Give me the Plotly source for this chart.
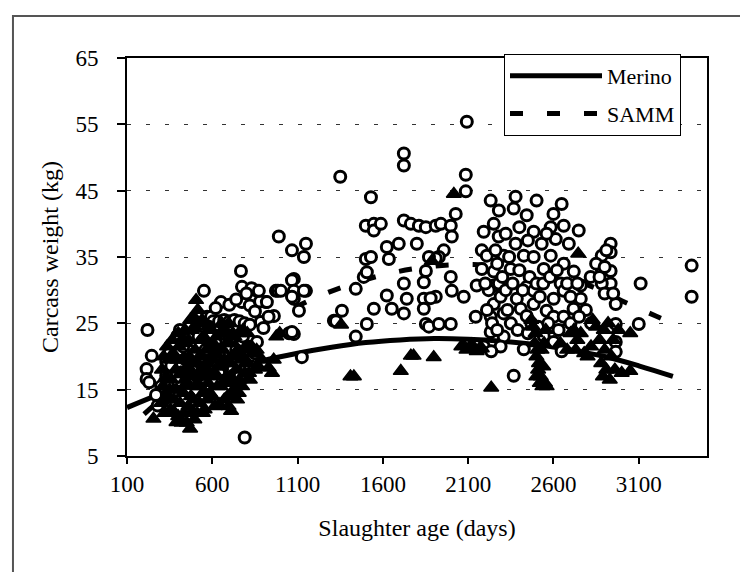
import plotly.graph_objects as go

# ---- fitted curves ----
merino_curve_age = [100, 300, 500, 700, 900, 1100, 1300, 1500, 1700, 1900, 2100, 2300, 2500, 2700, 2900, 3100, 3300]
merino_curve_wt = [12.3, 14.4, 16.3, 18.0, 19.4, 20.5, 21.4, 22.1, 22.5, 22.7, 22.6, 22.3, 21.8, 21.0, 20.0, 18.6, 17.0]

samm_curve_age = [200, 400, 600, 800, 1000, 1200, 1400, 1600, 1800, 2000, 2200, 2400, 2600, 2800, 3000, 3200, 3300]
samm_curve_wt = [11.3, 15.8, 19.8, 23.3, 26.3, 28.8, 30.8, 32.3, 33.3, 33.8, 33.8, 33.3, 32.3, 30.8, 28.4, 26.1, 25.0]

# ---- SAMM observations (open circles): (age, carcass weight) ----
samm_points = [
    (220, 24.0), (245, 20.1), (215, 18.1), (215, 16.6), (230, 16.1), (330, 19.2), (330, 17.1),
    (310, 13.3), (300, 15.5), (280, 12.6), (270, 14.2), (395, 23.1), (360, 18.6), (350, 20.5),
    (420, 17.6), (400, 16.1), (440, 19.6), (380, 14.8), (463, 22.7), (430, 21.5), (410, 24.0),
    (460, 16.0), (480, 18.0),
    (569, 26.0), (551, 29.9), (651, 28.2), (768, 32.9), (774, 30.5), (774, 28.2), (862, 29.9),
    (914, 28.2), (961, 26.1), (885, 25.2), (862, 22.2), (826, 19.6), (790, 7.8), (593, 26.0),
    (605, 25.3), (640, 25.3), (670, 25.5), (700, 25.3), (730, 25.5), (760, 25.3), (790, 25.0),
    (820, 24.8), (620, 22.0), (660, 20.5), (700, 22.5), (740, 21.0), (780, 23.0), (810, 21.5),
    (830, 18.5), (850, 20.5), (600, 19.0), (640, 17.5), (720, 18.0), (760, 17.0), (800, 18.3),
    (680, 16.5), (560, 21.0), (520, 23.0), (500, 20.5), (540, 17.5), (580, 24.5), (620, 27.3),
    (700, 27.8), (740, 28.6), (820, 27.7), (850, 26.8), (880, 28.3), (900, 24.3), (930, 26.0),
    (830, 30.3), (800, 29.5), (873, 29.9), (920, 28.2),
    (973, 29.9), (985, 29.9), (1002, 29.9), (990, 38.1), (1067, 36.0), (1149, 37.0), (1137, 35.0),
    (1078, 31.7), (1067, 31.5), (1078, 29.9), (1149, 29.9), (1137, 29.9), (1078, 28.7), (1108, 26.9),
    (1067, 29.0), (1078, 23.4), (1050, 23.5), (1067, 23.7), (1125, 19.9),
    (1350, 47.1), (1441, 30.2), (1488, 32.0), (1360, 26.9), (1313, 25.4), (1325, 25.3), (1441, 23.0),
    (1530, 44.0), (1500, 39.7), (1500, 34.7), (1547, 40.0), (1547, 39.0), (1530, 35.0), (1506, 24.9),
    (1547, 27.2), (1506, 32.7),
    (1588, 40.0), (1623, 36.5), (1693, 37.0), (1635, 34.7), (1723, 50.6), (1723, 48.8), (1723, 40.5),
    (1764, 40.0), (1811, 39.7), (1852, 39.5), (1910, 39.7), (1940, 40.0), (1998, 39.7), (2027, 41.5),
    (2004, 38.1), (1957, 36.0), (1928, 35.0), (1910, 34.8), (1870, 35.0), (1852, 32.9), (1840, 31.2),
    (1840, 28.7), (1840, 27.2), (1852, 24.9), (1870, 24.5), (1928, 24.9), (1998, 24.9), (1910, 29.0),
    (1880, 28.8), (1998, 32.0), (2004, 29.9), (2074, 29.0), (1799, 37.0), (1723, 31.0), (1740, 28.7),
    (1623, 29.2), (1652, 27.2), (1723, 26.5), (2092, 55.4), (2086, 47.4), (2086, 44.9), (2144, 26.0),
    (2150, 30.7), (2180, 33.2), (2180, 36.0), (2191, 38.8), (2191, 21.5),
    (2232, 43.5), (2378, 44.1), (2501, 43.5), (2648, 43.0), (2367, 42.3), (2443, 41.3), (2250, 40.0),
    (2584, 39.5), (2660, 39.7), (2748, 39.0), (2279, 38.1), (2484, 38.8), (2378, 37.0), (2531, 37.0),
    (2613, 37.7), (2209, 35.2), (2308, 35.2), (2426, 35.2), (2484, 35.0), (2584, 35.2), (2660, 34.0),
    (2250, 32.8), (2349, 33.2), (2543, 33.2), (2719, 32.8), (2818, 32.0), (2250, 30.7), (2443, 30.5),
    (2642, 31.0), (2760, 30.7), (2385, 28.7), (2484, 29.9), (2484, 27.9), (2601, 28.7), (2660, 29.9),
    (2760, 28.7), (2250, 27.9), (2232, 26.0), (2308, 26.5), (2408, 27.2), (2443, 26.1), (2560, 26.9),
    (2601, 26.0), (2660, 26.0), (2718, 27.2), (2232, 23.7), (2308, 23.0), (2543, 23.1), (2426, 21.1),
    (2601, 22.2), (2648, 20.8), (2672, 24.0), (2367, 17.1), (2220, 30.0), (2260, 36.0), (2270, 34.0),
    (2280, 31.0), (2290, 29.0), (2300, 32.0), (2320, 30.0), (2340, 35.0), (2360, 31.0), (2400, 33.0),
    (2420, 30.0), (2460, 32.0), (2500, 31.0), (2520, 29.0), (2540, 31.0), (2580, 32.0), (2620, 33.0),
    (2680, 31.0), (2700, 29.0), (2740, 31.0), (2790, 27.0), (2820, 25.0), (2240, 25.0), (2270, 24.0),
    (2290, 21.5), (2330, 27.0), (2350, 25.0), (2390, 24.0), (2450, 23.5), (2470, 25.0), (2510, 24.5),
    (2570, 25.0), (2630, 24.0), (2700, 25.0), (2750, 26.0), (2200, 31.0), (2210, 27.0), (2560, 38.5),
    (2600, 41.5), (2690, 37.0), (2450, 37.5), (2400, 39.5), (2320, 38.5), (2280, 42.0), (2235, 20.8),
    (2935, 37.0), (2935, 35.7), (2935, 32.9), (2935, 31.0), (2965, 27.9), (2965, 24.9), (2965, 22.2),
    (2965, 20.7), (2883, 33.2), (2883, 31.0), (2883, 35.2), (2900, 29.5), (2910, 36.0), (2870, 32.0),
    (2850, 34.0), (2950, 29.5), (2900, 33.5), (3111, 31.0), (3100, 24.9), (3410, 33.7), (3410, 29.0),
]

# ---- Merino observations (filled triangles): (age, carcass weight) ----
merino_points = [
    (255, 10.6), (390, 10.1), (470, 9.1), (640, 12.8), (710, 11.8), (300, 13.0), (310, 15.5),
    (320, 11.5), (330, 17.0), (340, 14.0), (345, 19.5), (355, 12.0), (360, 16.5), (370, 20.5),
    (375, 13.5), (385, 18.0), (390, 15.0), (400, 11.0), (405, 21.5), (410, 13.0), (415, 17.5),
    (425, 19.5), (430, 14.5), (435, 11.5), (445, 22.0), (450, 16.0), (455, 18.5), (460, 12.5),
    (465, 20.0), (475, 14.0), (480, 24.0), (485, 17.0), (490, 26.0), (495, 10.5), (500, 21.0),
    (505, 28.5), (510, 15.5), (515, 19.0), (520, 25.0), (525, 13.0), (530, 22.5), (535, 17.5),
    (540, 20.0), (545, 14.5), (550, 23.0), (555, 12.0), (560, 18.0), (565, 21.0), (575, 16.0),
    (580, 24.5), (590, 19.5), (600, 14.0), (605, 22.0), (615, 17.5), (620, 20.5), (630, 15.5),
    (645, 23.5), (650, 18.5), (660, 21.0), (665, 16.0), (675, 24.0), (680, 19.0), (690, 14.0),
    (700, 22.0), (705, 17.0), (715, 20.0), (725, 15.0), (730, 23.0), (740, 18.0), (745, 13.5),
    (750, 21.0), (760, 16.5), (770, 19.5), (780, 24.0), (790, 17.5), (800, 21.5), (810, 19.0),
    (820, 16.5), (840, 20.5), (870, 18.5), (930, 18.3), (950, 17.5), (960, 19.5), (975, 23.0),
    (995, 23.5),
    (305, 18.0), (315, 20.0), (325, 13.5), (335, 21.5), (350, 15.0), (365, 22.5), (380, 11.5),
    (395, 19.5), (400, 23.5), (420, 10.0), (420, 22.5), (440, 16.5), (440, 24.0), (450, 10.0),
    (460, 22.5), (470, 18.0), (470, 25.5), (480, 11.5), (490, 13.5), (495, 19.0), (500, 24.5),
    (510, 11.5), (515, 27.0), (525, 20.0), (530, 15.5), (540, 25.5), (545, 11.5), (550, 18.5),
    (560, 22.5), (570, 13.5), (575, 19.0), (585, 21.5), (585, 14.5), (595, 24.0), (600, 17.0),
    (610, 19.5), (615, 12.5), (625, 23.0), (635, 18.5), (640, 21.0), (650, 15.5), (655, 25.0),
    (670, 13.5), (670, 19.5), (685, 22.0), (685, 16.5), (695, 25.0), (695, 12.5), (710, 19.0),
    (720, 23.5), (720, 14.0), (735, 20.5), (735, 16.0), (755, 23.5), (755, 14.5), (765, 20.5),
    (775, 15.5), (785, 21.0), (795, 19.0), (805, 23.5), (815, 17.5), (830, 21.5), (850, 18.0),
    (860, 21.0), (890, 19.5),
    (1355, 24.8), (1410, 17.0), (1430, 17.0), (1705, 17.8), (1764, 20.1), (1780, 20.1), (1898, 19.9),
    (1887, 34.4), (2016, 44.5), (2060, 21.5), (2074, 21.6), (2090, 21.0), (2110, 21.3), (2120, 21.8),
    (2150, 20.8), (2180, 21.2), (2235, 15.3),
    (2470, 25.5), (2480, 24.5), (2490, 22.0), (2495, 23.5), (2500, 20.0), (2500, 17.0), (2505, 21.0),
    (2510, 18.0), (2515, 19.0), (2520, 16.0), (2525, 17.0), (2530, 21.0), (2535, 15.5), (2540, 18.5),
    (2545, 22.0), (2550, 16.0), (2555, 24.0), (2560, 15.5),
    (2640, 22.0), (2680, 21.0), (2700, 23.5), (2720, 24.0), (2730, 21.0), (2740, 22.5), (2745, 35.5),
    (2760, 23.5), (2780, 20.5), (2800, 20.0), (2820, 21.5), (2830, 25.5), (2850, 24.5), (2870, 22.5),
    (2880, 19.0), (2890, 17.0), (2895, 24.0), (2900, 21.0), (2910, 18.0), (2920, 25.0), (2930, 16.5),
    (2940, 20.0), (2950, 22.5), (2960, 18.0), (2980, 24.0), (3000, 17.5), (3050, 23.5), (3050, 17.8),
]

x_tick_values = [100, 600, 1100, 1600, 2100, 2600, 3100]
y_tick_values = [5, 15, 25, 35, 45, 55, 65]

samm_age = [p[0] for p in samm_points]
samm_wt = [p[1] for p in samm_points]
merino_age = [p[0] for p in merino_points]
merino_wt = [p[1] for p in merino_points]

SERIF = "Liberation Serif, Times New Roman, serif"

fig = go.Figure()
fig.add_trace(go.Scatter(
    x=merino_curve_age, y=merino_curve_wt, mode="lines", name="Merino",
    line=dict(color="black", width=5, shape="spline"), legendgroup="m", hoverinfo="skip"))
fig.add_trace(go.Scatter(
    x=samm_curve_age, y=samm_curve_wt, mode="lines", name="SAMM",
    line=dict(color="black", width=5, dash="13px,24px", shape="spline"), legendgroup="s", hoverinfo="skip"))
fig.add_trace(go.Scatter(
    x=samm_age, y=samm_wt, mode="markers", name="SAMM data", showlegend=False,
    marker=dict(symbol="circle", size=11, color="white", line=dict(color="black", width=3))))
fig.add_trace(go.Scatter(
    x=merino_age, y=merino_wt, mode="markers", name="Merino data", showlegend=False,
    marker=dict(symbol="triangle-up", size=13, color="black", line=dict(color="black", width=1.5))))

fig.update_layout(
    width=748, height=572,
    margin=dict(l=119, r=49, t=50, b=124, pad=0),
    paper_bgcolor="white", plot_bgcolor="white",
    font=dict(family=SERIF, color="black", size=22),
    legend=dict(x=0.650, y=1.01, xanchor="left", yanchor="top",
                bordercolor="black", borderwidth=1, bgcolor="white",
                font=dict(family=SERIF, size=22, color="black"),
                itemwidth=92, tracegroupgap=6),
    shapes=[dict(type="rect", xref="paper", yref="paper",
                 x0=-0.1966, x1=1.074, y0=-0.3065, y1=1.1055,
                 line=dict(color="#555555", width=2), layer="below")],
)
fig.update_xaxes(
    range=[100, 3500], tickvals=x_tick_values, ticktext=[str(v) for v in x_tick_values],
    showline=True, linecolor="black", linewidth=2, mirror=True,
    ticks="outside", ticklen=6, tickwidth=1.5, tickcolor="black",
    showgrid=False, zeroline=False,
    tickfont=dict(family=SERIF, size=23, color="black"), ticklabelstandoff=0,
    title=dict(text="Slaughter age (days)", font=dict(family=SERIF, size=24, color="black"), standoff=24),
)
fig.update_yaxes(
    range=[5, 65], tickvals=y_tick_values, ticktext=[str(v) for v in y_tick_values],
    showline=True, linecolor="black", linewidth=2, mirror=True,
    ticks="outside", ticklen=8, tickwidth=1.5, tickcolor="black",
    showgrid=True, gridcolor="#333333", gridwidth=1, griddash="4px,15px", zeroline=False,
    tickfont=dict(family=SERIF, size=23, color="black"), ticklabelstandoff=14,
    title=dict(text="Carcass weight (kg)", font=dict(family=SERIF, size=24, color="black"), standoff=10),
)

fig.write_html("out.html")
